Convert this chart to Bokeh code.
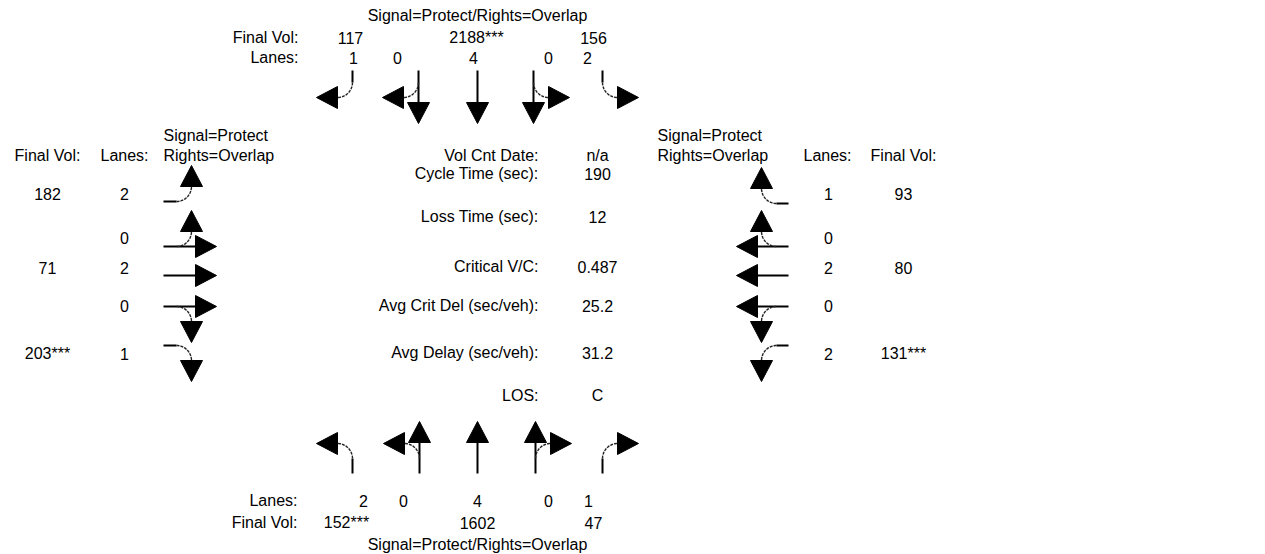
import numpy as np
from bokeh.plotting import figure
from bokeh.models import Range1d
from bokeh.embed import file_html
from bokeh.resources import INLINE
from bokeh.core.properties import value

# ---------------- data ----------------
signal_ns = "Signal=Protect/Rights=Overlap"
signal_ew = ["Signal=Protect", "Rights=Overlap"]

sb_final_vol = ["117", "2188***", "156"]
sb_lanes = ["1", "0", "4", "0", "2"]
sb_moves = ["R", "TR", "T", "TL", "L"]

nb_final_vol = ["152***", "1602", "47"]
nb_lanes = ["2", "0", "4", "0", "1"]
nb_moves = ["L", "LT", "T", "TR", "R"]

eb_final_vol = ["182", "71", "203***"]
eb_lanes = ["2", "0", "2", "0", "1"]
eb_moves = ["L", "LT", "T", "TR", "R"]

wb_final_vol = ["93", "80", "131***"]
wb_lanes = ["1", "0", "2", "0", "2"]
wb_moves = ["R", "RT", "T", "TL", "L"]

summary_labels = ["Vol Cnt Date:", "Cycle Time (sec):", "Loss Time (sec):",
                  "Critical V/C:", "Avg Crit Del (sec/veh):",
                  "Avg Delay (sec/veh):", "LOS:"]
summary_values = ["n/a", "190", "12", "0.487", "25.2", "31.2", "C"]

# ---------------- layout ----------------
FONT = value("Liberation Sans")
FS = value("16px")
W, H = 1265, 554

p = figure(width=W, height=H, x_range=Range1d(0, W), y_range=Range1d(H, 0),
           output_backend="svg", toolbar_location=None, x_axis_type=None,
           y_axis_type=None, min_border=0, outline_line_color=None)
p.grid.visible = False
p.background_fill_color = "white"
p.border_fill_color = "white"


def txt(xs, ys, texts, align="center"):
    p.text(x=list(xs), y=list(ys), text=list(texts), text_font=FONT, text_font_size=FS,
           text_align=align, text_baseline="middle", text_color="black")


R = 15.0      # turn radius
HL = 21.0     # head length
HW = 11.0     # head half width

head_xs, head_ys = [], []
solid_xs, solid_ys = [], []
arc_xs, arc_ys = [], []


def add_head(b, s):
    n = np.array([-s[1], s[0]])
    tip = b + HL * s
    pts = [b + HW * n, tip, b - HW * n]
    head_xs.append([q[0] for q in pts])
    head_ys.append([q[1] for q in pts])


def approach(moves, d, perps, start, turn_line, head_base, vertical):
    d = np.array(d, dtype=float)
    left = np.array([d[1], -d[0]])
    for mv, q in zip(moves, perps):
        def pt(a):
            return np.array([q, a], float) if vertical else np.array([a, q], float)
        has_t = "T" in mv
        turns = [c for c in mv if c in "LR"]
        if has_t:
            s0, s1 = pt(start), pt(head_base)
            solid_xs.append([s0[0], s1[0]])
            solid_ys.append([s0[1], s1[1]])
            add_head(s1, d)
        for c in turns:
            s = left if c == "L" else -left
            K = pt(turn_line)
            A = K - R * d
            B = K + R * s
            C = A + R * s
            if not has_t:
                s0 = pt(start)
                solid_xs.append([s0[0], A[0]])
                solid_ys.append([s0[1], A[1]])
            t = np.linspace(0, np.pi / 2, 20)
            u, v = -s, d
            arc = [C + R * (np.cos(a) * u + np.sin(a) * v) for a in t]
            arc_xs.append([q_[0] for q_ in arc])
            arc_ys.append([q_[1] for q_ in arc])
            add_head(B, s)


approach(sb_moves, (0, 1), [352, 418, 477, 533, 602], 70, 97, 102, True)
approach(nb_moves, (0, -1), [352, 419, 477, 535, 602], 473, 443, 442, True)
approach(eb_moves, (1, 0), [201, 246, 275, 306, 345], 163, 191, 195, False)
approach(wb_moves, (-1, 0), [203, 246, 275, 306, 345], 788, 761, 757, False)

p.multi_line(solid_xs, solid_ys, line_color="black", line_width=2)
p.multi_line(arc_xs, arc_ys, line_color="#222222", line_width=1.4, line_dash="3 1")
p.patches(head_xs, head_ys, fill_color="black", line_color="black", line_width=1)

# ---- top (SB) texts ----
txt([477], [15], [signal_ns])
txt([298, 298], [37, 57], ["Final Vol:", "Lanes:"], align="right")
txt([350, 476, 593], [37] * 3, sb_final_vol)
txt([353, 397, 473, 548, 587], [57] * 5, sb_lanes)

# ---- bottom (NB) texts ----
txt([297, 297], [500, 522], ["Lanes:", "Final Vol:"], align="right")
txt([363, 403, 477, 548, 588], [500] * 5, nb_lanes)
txt([346, 477, 593], [522] * 3, nb_final_vol)
txt([477], [544], [signal_ns])

# ---- left (EB) texts ----
txt([163, 163], [135, 155], signal_ew, align="left")
txt([47, 124], [155, 155], ["Final Vol:", "Lanes:"])
txt([47] * 3, [193, 267, 353], eb_final_vol)
txt([124] * 5, [193, 237, 267, 305, 353], eb_lanes)

# ---- right (WB) texts ----
txt([657, 657], [135, 155], signal_ew, align="left")
txt([827, 903], [155, 155], ["Lanes:", "Final Vol:"])
txt([828] * 5, [193, 237, 267, 305, 353], wb_lanes)
txt([903] * 3, [193, 267, 353], wb_final_vol)

# ---- summary ----
sy = [155, 173, 216, 266, 305, 352, 395]
txt([538] * len(sy), sy, summary_labels, align="right")
txt([597] * len(sy), sy, summary_values)

open("out.html", "w").write(file_html(p, INLINE))
